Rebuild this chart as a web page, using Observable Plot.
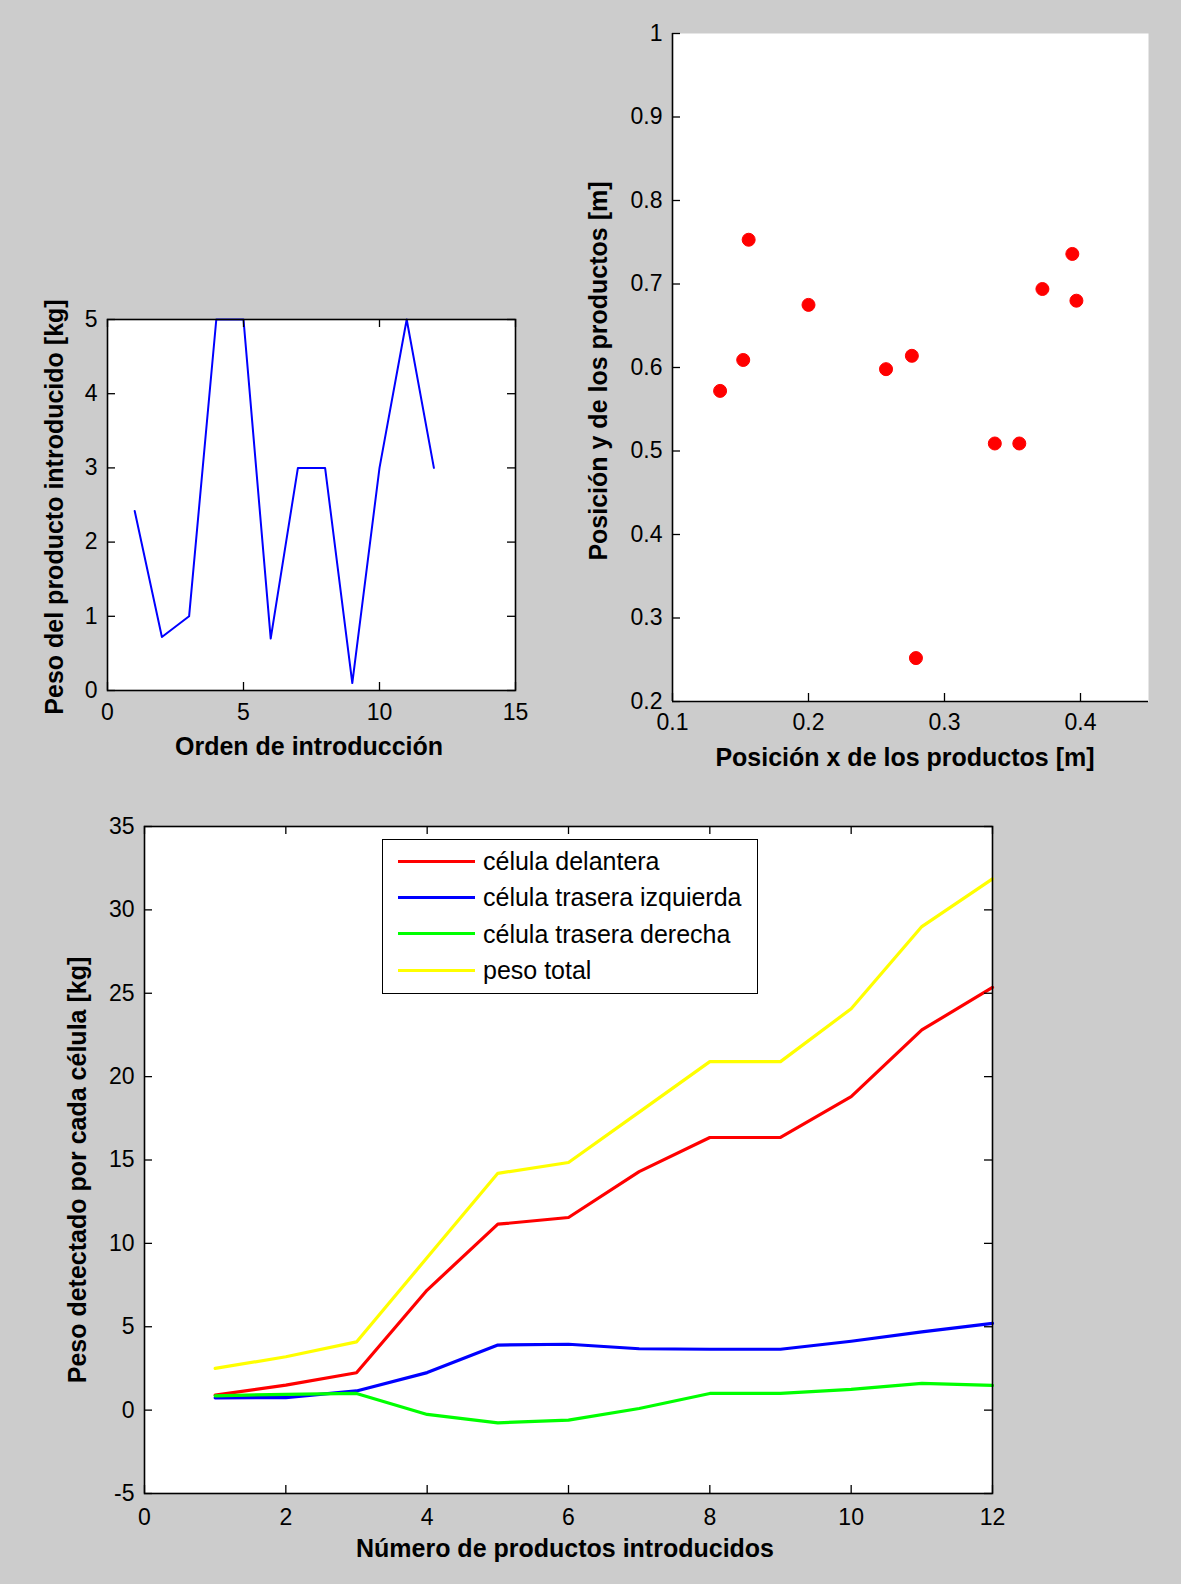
<!DOCTYPE html>
<html>
<head>
<meta charset="utf-8">
<script src="https://cdn.jsdelivr.net/npm/d3@7"></script>
<script src="https://cdn.jsdelivr.net/npm/@observablehq/plot@0.6"></script>
<style>
html, body { margin: 0; padding: 0; background: #cccccc; }
#page { position: relative; width: 1181px; height: 1584px; background: #cccccc; overflow: hidden;
        font-family: "Liberation Sans", Arial, Helvetica, sans-serif; }
.panel { position: absolute; }
.lab { position: absolute; font-weight: bold; font-size: 25px; color: #000; white-space: nowrap; line-height: 1; }
.xlab { transform: translate(-50%, -50%); }
.ylab { transform: translate(-50%, -50%) rotate(-90deg); }
.legend { position: absolute; background: #fff; border: 1.5px solid #000; box-sizing: border-box; }
.legrow { position: absolute; left: 0; right: 0; height: 36px; }
.legsw { position: absolute; top: 16.5px; height: 3px; }
.legtx { position: absolute; top: 0; line-height: 36px; font-size: 25px; color: #000; white-space: nowrap; }
</style>
</head>
<body>
<div id="page"></div>
<script>
// ---------- Data ----------
// Panel 1: peso de cada producto según orden de introducción
const orden = [1, 2, 3, 4, 5, 6, 7, 8, 9, 10, 11, 12];
const pesoProducto = [2.42, 0.72, 1.0, 5.0, 5.0, 0.7, 3.0, 3.0, 0.1, 3.0, 5.0, 3.0];

// Panel 2: posición de los productos
const posX = [0.135, 0.152, 0.156, 0.200, 0.257, 0.276, 0.372, 0.394, 0.397, 0.337, 0.355, 0.279];
const posY = [0.572, 0.609, 0.753, 0.675, 0.598, 0.614, 0.694, 0.736, 0.680, 0.509, 0.509, 0.252];

// Panel 3: peso detectado por cada célula
const numProductos = [1, 2, 3, 4, 5, 6, 7, 8, 9, 10, 11, 12];
const celulaDelantera = [0.9, 1.5, 2.24, 7.2, 11.15, 11.55, 14.3, 16.35, 16.35, 18.8, 22.8, 25.35];
const celulaTraseraIzq = [0.74, 0.75, 1.15, 2.25, 3.9, 3.95, 3.68, 3.65, 3.65, 4.13, 4.69, 5.2];
const celulaTraseraDer = [0.86, 0.95, 1.0, -0.26, -0.76, -0.6, 0.1, 1.0, 1.0, 1.24, 1.6, 1.48];
const pesoTotal = [2.5, 3.2, 4.09, 9.15, 14.2, 14.85, 17.87, 20.9, 20.9, 24.07, 29.0, 31.86];
const seriesNames = ["célula delantera", "célula trasera izquierda", "célula trasera derecha", "peso total"];
const seriesColors = ["#ff0000", "#0000ff", "#00ff00", "#ffff00"];

// Ticks and axis labels
const xTicks1 = [0, 5, 10, 15];
const yTicks1 = [0, 1, 2, 3, 4, 5];
const xTicks2 = [0.1, 0.2, 0.3, 0.4];
const yTicks2 = [0.2, 0.3, 0.4, 0.5, 0.6, 0.7, 0.8, 0.9, 1];
const xTicks3 = [0, 2, 4, 6, 8, 10, 12];
const yTicks3 = [-5, 0, 5, 10, 15, 20, 25, 30, 35];
const xLabel1 = "Orden de introducción";
const yLabel1 = "Peso del producto introducido [kg]";
const xLabel2 = "Posición x de los productos [m]";
const yLabel2 = "Posición y de los productos [m]";
const xLabel3 = "Número de productos introducidos";
const yLabel3 = "Peso detectado por cada célula [kg]";

// ---------- Helpers ----------
const page = document.getElementById("page");
const FONT = '"Liberation Sans", Arial, Helvetica, sans-serif';

function panel({frame, m, xDomain, yDomain, xTicks, yTicks, xPad, yPad, box, marks}) {
  const [x0, y0, x1, y1] = frame;
  const w = x1 - x0, h = y1 - y0;
  const tick = 8;
  const tickMarks = [
    Plot.ruleX(xTicks, {x: d => d, insetTop: h - tick, stroke: "#000", strokeWidth: 1.3}),
    Plot.ruleY(yTicks, {y: d => d, insetRight: w - tick, stroke: "#000", strokeWidth: 1.3})
  ];
  if (box) {
    tickMarks.push(
      Plot.ruleX(xTicks, {x: d => d, insetBottom: h - tick, stroke: "#000", strokeWidth: 1.3}),
      Plot.ruleY(yTicks, {y: d => d, insetLeft: w - tick, stroke: "#000", strokeWidth: 1.3})
    );
  }
  const border = box
    ? [Plot.frame({stroke: "#000", strokeWidth: 1.6})]
    : [Plot.ruleX([xDomain[0]], {stroke: "#000", strokeWidth: 1.6}),
       Plot.ruleY([yDomain[0]], {stroke: "#000", strokeWidth: 1.6})];
  const chart = Plot.plot({
    width: w + m.l + m.r,
    height: h + m.t + m.b,
    marginLeft: m.l, marginRight: m.r, marginTop: m.t, marginBottom: m.b,
    x: {domain: xDomain, nice: false},
    y: {domain: yDomain, nice: false},
    style: {background: "transparent", fontFamily: FONT, fontSize: "23px", color: "#000", overflow: "visible"},
    marks: [
      Plot.frame({fill: "#ffffff", stroke: null}),
      ...marks,
      ...tickMarks,
      ...border,
      Plot.axisX({ticks: xTicks, tickSize: 0, tickPadding: xPad, tickFormat: d => String(d), label: null}),
      Plot.axisY({ticks: yTicks, tickSize: 0, tickPadding: yPad, tickFormat: d => String(d), label: null})
    ]
  });
  const holder = document.createElement("div");
  holder.className = "panel";
  holder.style.left = (x0 - m.l) + "px";
  holder.style.top = (y0 - m.t) + "px";
  holder.appendChild(chart);
  page.appendChild(holder);
}

function label(text, cx, cy, vertical) {
  const d = document.createElement("div");
  d.className = "lab " + (vertical ? "ylab" : "xlab");
  d.style.left = cx + "px";
  d.style.top = cy + "px";
  d.textContent = text;
  page.appendChild(d);
}

// ---------- Panel 1 ----------
const data1 = orden.map((o, i) => ({x: o, y: pesoProducto[i]}));
panel({
  frame: [107, 319, 515, 690],
  m: {l: 60, t: 20, r: 20, b: 45},
  xDomain: [0, 15], yDomain: [0, 5],
  xTicks: xTicks1, yTicks: yTicks1, xPad: 13, yPad: 10, box: true,
  marks: [Plot.line(data1, {x: "x", y: "y", stroke: "#0000ff", strokeWidth: 2})]
});
label(xLabel1, 309, 746, false);
label(yLabel1, 54, 507, true);

// ---------- Panel 2 ----------
const data2 = posX.map((x, i) => ({x, y: posY[i]}));
panel({
  frame: [672, 33, 1148, 701],
  m: {l: 60, t: 20, r: 20, b: 45},
  xDomain: [0.1, 0.45], yDomain: [0.2, 1],
  xTicks: xTicks2, yTicks: yTicks2, xPad: 12, yPad: 10, box: false,
  marks: [Plot.dot(data2, {x: "x", y: "y", r: 6.5, fill: "#ff0000", stroke: "#ff0000", strokeWidth: 1})]
});
label(xLabel2, 905, 757, false);
label(yLabel2, 598, 371, true);

// ---------- Panel 3 ----------
const seriesValues = [celulaDelantera, celulaTraseraIzq, celulaTraseraDer, pesoTotal];
const lines3 = seriesValues.map((vals, s) =>
  Plot.line(numProductos.map((n, i) => ({n, v: vals[i]})),
    {x: "n", y: "v", stroke: seriesColors[s], strokeWidth: 3.2})
);
panel({
  frame: [144, 826, 992, 1493],
  m: {l: 60, t: 20, r: 20, b: 45},
  xDomain: [0, 12], yDomain: [-5, 35],
  xTicks: xTicks3, yTicks: yTicks3, xPad: 15, yPad: 10, box: true,
  marks: lines3
});
label(xLabel3, 565, 1548, false);
label(yLabel3, 77, 1170, true);

// Legend
const leg = document.createElement("div");
leg.className = "legend";
leg.style.left = "382px"; leg.style.top = "839px";
leg.style.width = "376px"; leg.style.height = "155px";
seriesNames.forEach((name, i) => {
  const row = document.createElement("div");
  row.className = "legrow";
  row.style.top = (3 + i * 36.4) + "px";
  const sw = document.createElement("div");
  sw.className = "legsw";
  sw.style.left = "15px"; sw.style.width = "77px";
  sw.style.background = seriesColors[i];
  const tx = document.createElement("div");
  tx.className = "legtx";
  tx.style.left = "100px";
  tx.textContent = name;
  row.appendChild(sw); row.appendChild(tx);
  leg.appendChild(row);
});
page.appendChild(leg);
</script>
</body>
</html>
